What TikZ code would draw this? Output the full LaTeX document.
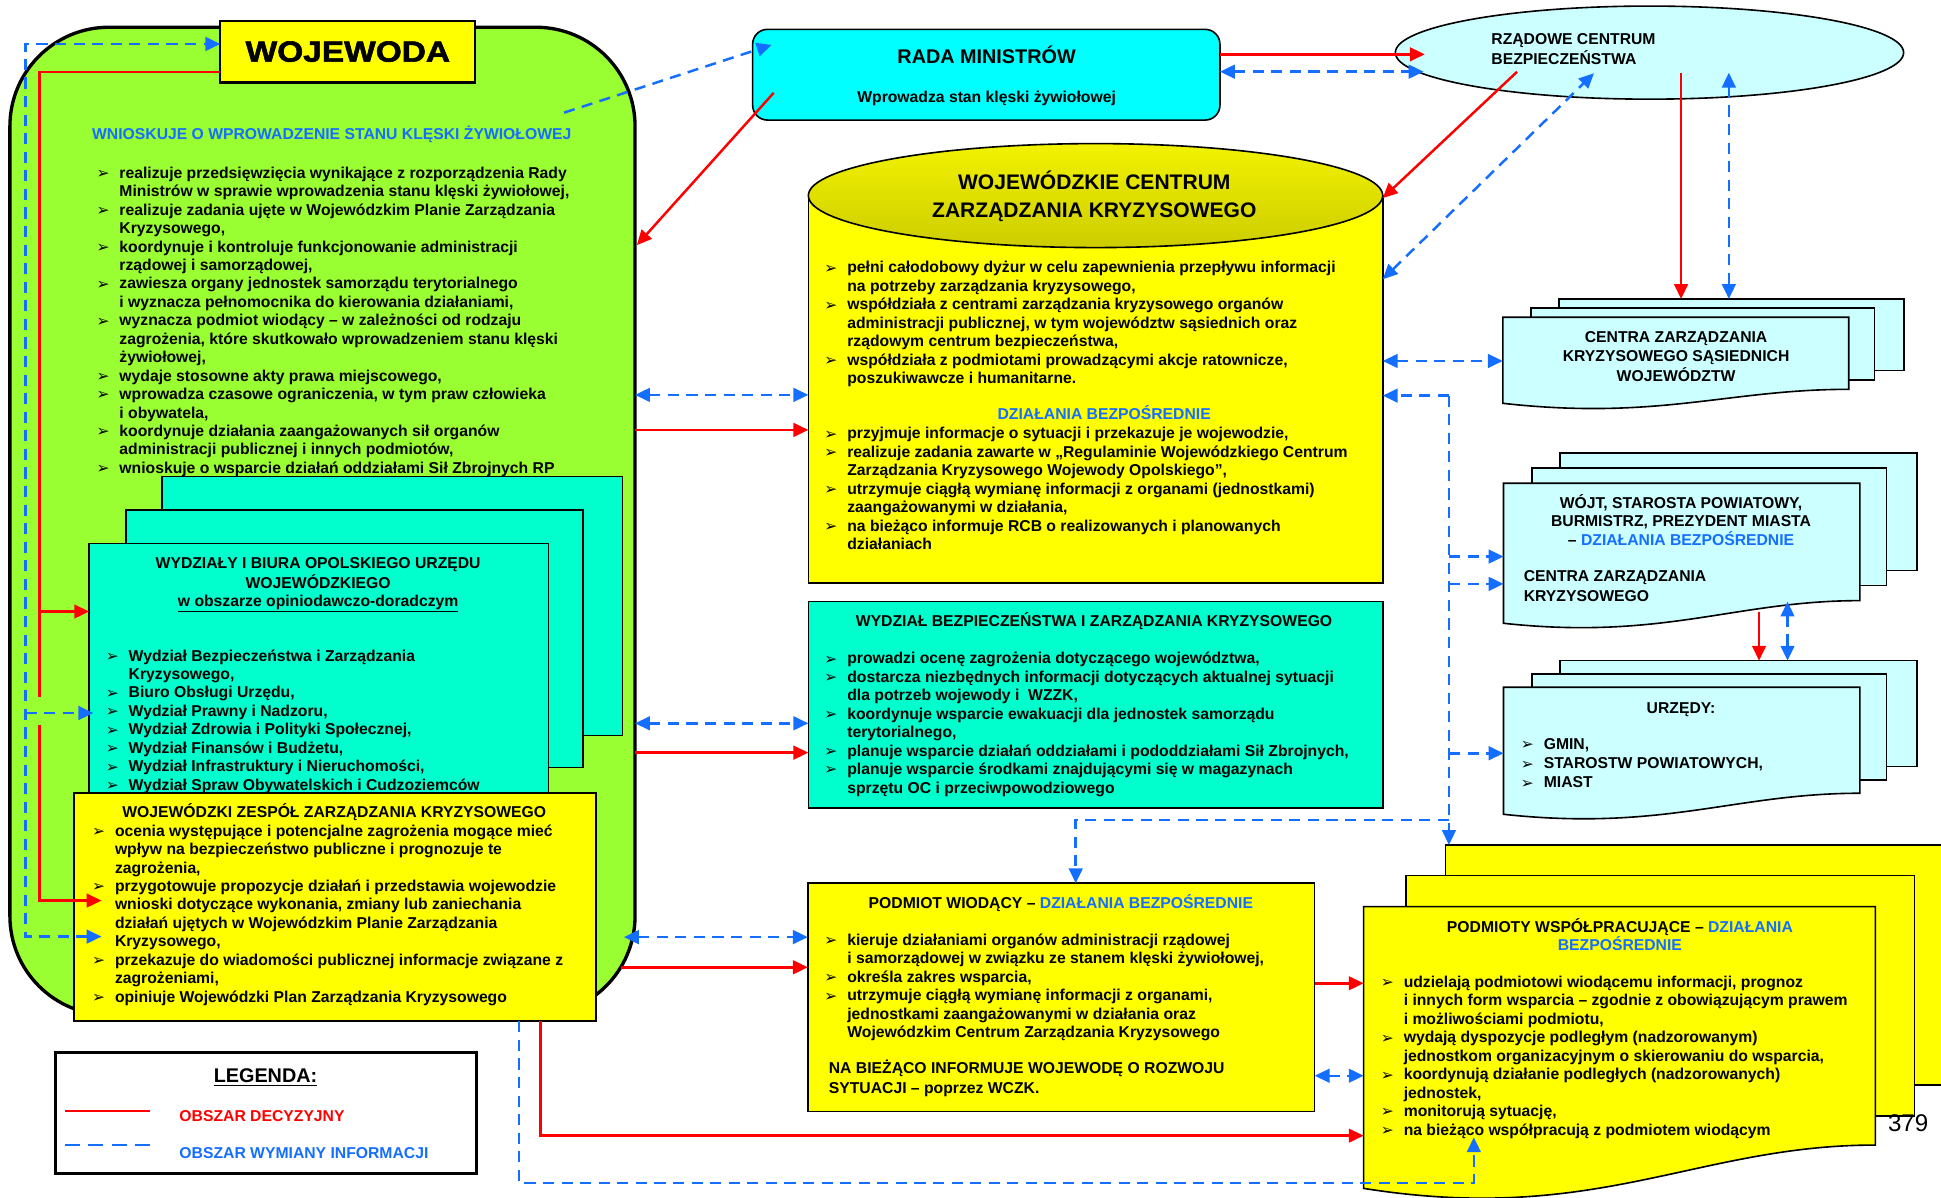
\documentclass[tikz,border=0pt]{standalone}
\usepackage{fontspec}
\setmainfont{Liberation Sans}
\newfontfamily\dvs{DejaVu Sans}
\newfontfamily\widefont{Liberation Sans}[FakeStretch=1.15,FakeBold=2]
\usetikzlibrary{arrows.meta,shapes.geometric}
\definecolor{cgreen}{RGB}{153,255,51}
\definecolor{cyel}{RGB}{255,255,0}
\definecolor{cteal}{RGB}{0,255,204}
\definecolor{ccyan}{RGB}{0,255,255}
\definecolor{clcyan}{RGB}{204,255,255}
\definecolor{cblue}{RGB}{20,110,255}
\definecolor{cred}{RGB}{255,0,0}
\newcommand\bl{\makebox[18.5pt][l]{\raisebox{-0.3pt}{\dvs\fontsize{12.5}{12.5}\selectfont ➢}}}
\newcommand\ct{\hspace*{18.5pt}}
\newcommand\tb[1]{\begin{tabular}[t]{@{}l@{}}#1\end{tabular}}
\newcommand\tc[1]{\begin{tabular}[t]{@{}c@{}}#1\end{tabular}}
\tikzset{
  box/.style={draw, line width=1.3pt, inner sep=0pt, outer sep=0pt, anchor=north west},
  txt/.style={inner sep=0pt, outer sep=0pt, anchor=base west, font=\fontsize{12.7}{14.9}\selectfont\bfseries},
  ctxt/.style={txt, anchor=base},
  redl/.style={draw=cred, line width=2pt},
  bluel/.style={draw=cblue, line width=2pt, dash pattern=on 9pt off 6pt},
  tip/.style={-{Triangle[length=12pt,width=11pt]}},
  dtip/.style={{Triangle[length=12pt,width=11pt]}-{Triangle[length=12pt,width=11pt]}},
}
\begin{document}
\begin{tikzpicture}[x=1pt,y=-1pt]
\useasboundingbox (0,0) rectangle (1568,967);
\clip (0,0) rectangle (1568,967);

% ---------- left green block ----------
\node[box, line width=2.7pt, fill=cgreen, rounded corners=80pt, minimum width=505pt, minimum height=798pt] (woj) at (8,22) {};
\node[box, line width=1.8pt, fill=cyel, minimum width=206pt, minimum height=50pt, anchor=center, font=\widefont\fontsize{23.5}{24}\selectfont\bfseries] (wojewoda) at (281,41.7) {WOJEWODA};
\node[ctxt, text=cblue] (wn) at (268,113) {WNIOSKUJE O WPROWADZENIE STANU KLĘSKI ŻYWIOŁOWEJ};
\node[txt] (wl) at (78,144) {\tb{%
\bl realizuje przedsięwzięcia wynikające z rozporządzenia Rady\\
\ct Ministrów w sprawie wprowadzenia stanu klęski żywiołowej,\\
\bl realizuje zadania ujęte w Wojewódzkim Planie Zarządzania\\
\ct Kryzysowego,\\
\bl koordynuje i kontroluje funkcjonowanie administracji\\
\ct rządowej i samorządowej,\\
\bl zawiesza organy jednostek samorządu terytorialnego\\
\ct i wyznacza pełnomocnika do kierowania działaniami,\\
\bl wyznacza podmiot wiodący – w zależności od rodzaju\\
\ct zagrożenia, które skutkowało wprowadzeniem stanu klęski\\
\ct żywiołowej,\\
\bl wydaje stosowne akty prawa miejscowego,\\
\bl wprowadza czasowe ograniczenia, w tym praw człowieka\\
\ct i obywatela,\\
\bl koordynuje działania zaangażowanych sił organów\\
\ct administracji publicznej i innych podmiotów,\\
\bl wnioskuje o wsparcie działań oddziałami Sił Zbrojnych RP}};

% teal stack
\node[box, fill=cteal, minimum width=372pt, minimum height=209pt] (tback) at (131,385) {};
\node[box, fill=cteal, minimum width=369pt, minimum height=208pt] (tmid) at (102,412) {};
\node[box, fill=cteal, minimum width=371pt, minimum height=211pt] (tfront) at (72,439) {};
\node[ctxt] (tt) at (257,459.5) {\tc{WYDZIAŁY I BIURA OPOLSKIEGO URZĘDU\\ WOJEWÓDZKIEGO\\ \underline{w obszarze opiniodawczo-doradczym}}};
\node[txt] (tl) at (85.5,534) {\tb{%
\bl Wydział Bezpieczeństwa i Zarządzania\\
\ct Kryzysowego,\\
\bl Biuro Obsługi Urzędu,\\
\bl Wydział Prawny i Nadzoru,\\
\bl Wydział Zdrowia i Polityki Społecznej,\\
\bl Wydział Finansów i Budżetu,\\
\bl Wydział Infrastruktury i Nieruchomości,\\
\bl Wydział Spraw Obywatelskich i Cudzoziemców}};

% WZZK
\node[box, fill=cyel, minimum width=421.6pt, minimum height=184.3pt] (wzzk) at (60,640.7) {};
\node[ctxt] (wzt) at (270,660.5) {WOJEWÓDZKI ZESPÓŁ ZARZĄDZANIA KRYZYSOWEGO};
\node[txt] (wzl) at (74.4,675.5) {\tb{%
\bl ocenia występujące i potencjalne zagrożenia mogące mieć\\
\ct wpływ na bezpieczeństwo publiczne i prognozuje te\\
\ct zagrożenia,\\
\bl przygotowuje propozycje działań i przedstawia wojewodzie\\
\ct wnioski dotyczące wykonania, zmiany lub zaniechania\\
\ct działań ujętych w Wojewódzkim Planie Zarządzania\\
\ct Kryzysowego,\\
\bl przekazuje do wiadomości publicznej informacje związane z\\
\ct zagrożeniami,\\
\bl opiniuje Wojewódzki Plan Zarządzania Kryzysowego}};

% legend
\node[box, line width=2.7pt, fill=white, minimum width=339.7pt, minimum height=98pt] (legend) at (45,850) {};
\node[ctxt, font=\fontsize{16}{16}\selectfont\bfseries] (lg) at (214.5,874.8) {\underline{LEGENDA:}};
\coordinate (lr1) at (52.6,897.5); \coordinate (lr2) at (121,897.5);
\coordinate (lb1) at (52.6,925); \coordinate (lb2) at (121,925);
\draw[redl] (lr1) -- (lr2);
\draw[draw=cblue, line width=2pt, dash pattern=on 12pt off 6.8pt] (lb1) -- (lb2);
\node[txt, text=cred] (lr) at (145,906) {OBSZAR DECYZYJNY};
\node[txt, text=cblue] (lb) at (145,936) {OBSZAR WYMIANY INFORMACJI};

% ---------- centre column ----------
\node[box, fill=ccyan, rounded corners=12pt, minimum width=377.5pt, minimum height=73.3pt] (rada) at (608,23.7) {};
\node[ctxt, font=\fontsize{16}{16}\selectfont\bfseries] (rt1) at (797,51.5) {RADA MINISTRÓW};
\node[ctxt] (rt2) at (797,82.5) {Wprowadza stan klęski żywiołowej};

\node[box, fill=cyel, minimum width=464pt, minimum height=313pt] (wczk) at (653,158) {};
\node[draw, line width=1.3pt, ellipse, inner sep=0pt, outer sep=0pt, minimum width=464pt, minimum height=84pt, top color={rgb,255:red,242;green,242;blue,0}, bottom color={rgb,255:red,205;green,205;blue,0}] (wczkhead) at (885,158) {};
\node[ctxt, font=\fontsize{17}{23}\selectfont\bfseries] (wt) at (884,152.8) {\tc{WOJEWÓDZKIE CENTRUM\\ ZARZĄDZANIA KRYZYSOWEGO}};
\node[txt] (wl1) at (666,220.5) {\tb{%
\bl pełni całodobowy dyżur w celu zapewnienia przepływu informacji\\
\ct na potrzeby zarządzania kryzysowego,\\
\bl współdziała z centrami zarządzania kryzysowego organów\\
\ct administracji publicznej, w tym województw sąsiednich oraz\\
\ct rządowym centrum bezpieczeństwa,\\
\bl współdziała z podmiotami prowadzącymi akcje ratownicze,\\
\ct poszukiwawcze i humanitarne.}};
\node[ctxt, text=cblue] (wdb) at (892,338.9) {DZIAŁANIA BEZPOŚREDNIE};
\node[txt] (wl2) at (666,354.5) {\tb{%
\bl przyjmuje informacje o sytuacji i przekazuje je wojewodzie,\\
\bl realizuje zadania zawarte w „Regulaminie Wojewódzkiego Centrum\\
\ct Zarządzania Kryzysowego Wojewody Opolskiego”,\\
\bl utrzymuje ciągłą wymianę informacji z organami (jednostkami)\\
\ct zaangażowanymi w działania,\\
\bl na bieżąco informuje RCB o realizowanych i planowanych\\
\ct działaniach}};

\node[box, fill=cteal, minimum width=464pt, minimum height=166.8pt] (wbzk) at (653,486) {};
\node[ctxt] (wbt) at (883.8,506.5) {WYDZIAŁ BEZPIECZEŃSTWA I ZARZĄDZANIA KRYZYSOWEGO};
\node[txt] (wbl) at (666,536.3) {\tb{%
\bl prowadzi ocenę zagrożenia dotyczącego województwa,\\
\bl dostarcza niezbędnych informacji dotyczących aktualnej sytuacji\\
\ct dla potrzeb wojewody i\ \ WZZK,\\
\bl koordynuje wsparcie ewakuacji dla jednostek samorządu\\
\ct terytorialnego,\\
\bl planuje wsparcie działań oddziałami i pododdziałami Sił Zbrojnych,\\
\bl planuje wsparcie środkami znajdującymi się w magazynach\\
\ct sprzętu OC i przeciwpowodziowego}};

\node[box, fill=cyel, minimum width=409.4pt, minimum height=184.5pt] (pw) at (652.6,713.5) {};
\node[ctxt] (pwt) at (857,733.5) {PODMIOT WIODĄCY – \textcolor{cblue}{DZIAŁANIA BEZPOŚREDNIE}};
\node[txt] (pwl) at (666,763.8) {\tb{%
\bl kieruje działaniami organów administracji rządowej\\
\ct i samorządowej w związku ze stanem klęski żywiołowej,\\
\bl określa zakres wsparcia,\\
\bl utrzymuje ciągłą wymianę informacji z organami,\\
\ct jednostkami zaangażowanymi w działania oraz\\
\ct Wojewódzkim Centrum Zarządzania Kryzysowego}};
\node[txt] (pwf) at (669.6,867.5) {\tb{NA BIEŻĄCO INFORMUJE WOJEWODĘ O ROZWOJU\\[0.7pt] SYTUACJI – poprzez WCZK.}};

% ---------- right column ----------
\node[draw, line width=1.3pt, ellipse, inner sep=0pt, outer sep=0pt, minimum width=410.6pt, minimum height=75.2pt, fill=clcyan] (rcb) at (1332.5,42.5) {};
\node[txt] (rcbt) at (1204.8,36.3) {\tb{RZĄDOWE CENTRUM\\ BEZPIECZEŃSTWA}};

% CZK sasiednich
\node[box, fill=clcyan, minimum width=278.6pt, minimum height=57.9pt] (sback) at (1259.4,241.5) {};
\node[box, fill=clcyan, minimum width=277.4pt, minimum height=58pt] (smid) at (1237,249) {};
\filldraw[draw=black, line width=1.3pt, fill=clcyan] (1214,256.3) coordinate (sfront) -- (1493.5,256.3) -- (1493.5,314.5) .. controls (1395.7,314.5) and (1339.8,339.8) .. (1214,325.8) -- cycle;
\node[ctxt] (st) at (1354,277) {\tc{CENTRA ZARZĄDZANIA\\[0.4pt] KRYZYSOWEGO SĄSIEDNICH\\[0.4pt] WOJEWÓDZTW}};

% WOJT stack
\node[box, fill=clcyan, minimum width=288.5pt, minimum height=95pt] (jback) at (1260,366) {};
\node[box, fill=clcyan, minimum width=286.5pt, minimum height=94.7pt] (jmid) at (1237.5,378.3) {};
\filldraw[draw=black, line width=1.3pt, fill=clcyan] (1214.6,390.4) coordinate (jfront) -- (1502.4,390.4) -- (1502.4,485.2) .. controls (1401.7,485.2) and (1344.1,517.5) .. (1214.6,503.5) -- cycle;
\node[ctxt] (jt) at (1358,411) {\tc{WÓJT, STAROSTA POWIATOWY,\\[-0.5pt] BURMISTRZ, PREZYDENT MIASTA\\[-0.5pt] – \textcolor{cblue}{DZIAŁANIA BEZPOŚREDNIE}}};
\node[txt] (jt2) at (1231,469.8) {\tb{CENTRA ZARZĄDZANIA\\[1.2pt] KRYZYSOWEGO}};

% URZEDY stack
\node[box, fill=clcyan, minimum width=288.5pt, minimum height=85.6pt] (uback) at (1260,533.7) {};
\node[box, fill=clcyan, minimum width=286.5pt, minimum height=85.6pt] (umid) at (1237.5,544.4) {};
\filldraw[draw=black, line width=1.3pt, fill=clcyan] (1214.6,555.2) coordinate (ufront) -- (1502.4,555.2) -- (1502.4,640.8) .. controls (1401.7,640.8) and (1344.1,671.8) .. (1214.6,657.8) -- cycle;
\node[ctxt] (ut) at (1358,576) {URZĘDY:};
\node[txt] (ul) at (1228.6,605.5) {\tb{\bl GMIN,\\[0.6pt] \bl STAROSTW POWIATOWYCH,\\[0.6pt] \bl MIAST}};

% PODMIOTY WSPOLPRACUJACE stack
\node[box, fill=cyel, minimum width=450pt, minimum height=193.8pt] (pback) at (1167.8,682.6) {};
\node[box, fill=cyel, minimum width=410.9pt, minimum height=194.2pt] (pmid) at (1135.7,707.3) {};
\filldraw[draw=black, line width=1.3pt, fill=cyel] (1101.6,732.4) coordinate (pfront) -- (1515,732.4) -- (1515,925) .. controls (1370,925) and (1290,990) .. (1101.6,960) -- cycle;
\node[ctxt] (pt) at (1308.6,753) {\tc{PODMIOTY WSPÓŁPRACUJĄCE – \textcolor{cblue}{DZIAŁANIA}\\[-0.6pt] \textcolor{cblue}{BEZPOŚREDNIE}}};
\node[txt] (pl) at (1115.5,797.7) {\tb{%
\bl udzielają podmiotowi wiodącemu informacji, prognoz\\
\ct i innych form wsparcia – zgodnie z obowiązującym prawem\\
\ct i możliwościami podmiotu,\\
\bl wydają dyspozycje podległym (nadzorowanym)\\
\ct jednostkom organizacyjnym o skierowaniu do wsparcia,\\
\bl koordynują działanie podległych (nadzorowanych)\\
\ct jednostek,\\
\bl monitorują sytuację,\\
\bl na bieżąco współpracują z podmiotem wiodącym}};
\node[inner sep=0pt, anchor=base west, font=\fontsize{19.5}{20}\selectfont] (pgno) at (1525,914) {379};

% ---------- red connectors (decision) ----------
\draw[redl] (wojewoda.west |- 0,58) -- (32,58) -- (32,563);
\draw[redl,tip] (32,494) -- (tfront.west |- 0,494);
\draw[redl,tip] (32,586) -- (32,727.5) -- (82,727.5);
\draw[redl,tip] (625,75) -- (514.5,198);
\draw[redl,tip] (rada.east |- 0,43.9) -- (1151,43.9);
\draw[redl,tip] (1225.5,58) -- (1117,160);
\draw[redl,tip] (1358,58.7) -- (sback.north -| 1358,0);
\draw[redl,tip] (woj.east |- 0,347.3) -- (wczk.west |- 0,347.3);
\draw[redl,tip] (woj.east |- 0,608) -- (wbzk.west |- 0,608);
\draw[redl,tip] (502,781.4) -- (pw.west |- 0,781.4);
\draw[redl,tip] (wzzk.south -| 436.7,0) -- (436.7,917.4) -- (pfront |- 0,917.4);
\draw[redl,tip] (pw.east |- 0,794.3) -- (pfront |- 0,794.3);
\draw[redl,tip] (1421,494) -- (uback.north -| 1421,0);

% ---------- blue connectors (information) ----------
\draw[bluel,dtip] (82,756.6) -- (20.5,756.6) -- (20.5,35.5) -- (wojewoda.west |- 0,35.5);
\draw[bluel,tip] (20.5,576) -- (75.4,576);
\draw[bluel,tip] (455.7,91) -- (623.3,36.3);
\draw[bluel,dtip] (rada.east |- 0,57.9) -- (1150,57.9);
\draw[bluel,dtip] (1117,225.6) -- (1287.6,59.2);
\draw[bluel,dtip] (1396.6,58.7) -- (sback.north -| 1396.6,0);
\draw[bluel,dtip] (woj.east |- 0,319) -- (wczk.west |- 0,319);
\draw[bluel,dtip] (wczk.east |- 0,291.6) -- (sfront |- 0,291.6);
\draw[bluel,tip] (1170.5,319.6) -- (wczk.east |- 0,319.6);
\draw[bluel,tip] (1170.5,319.6) -- (pback.north -| 1170.5,0);
\draw[bluel,tip] (1170.5,449.6) -- (jfront |- 0,449.6);
\draw[bluel,tip] (1170.5,471.7) -- (jfront |- 0,471.7);
\draw[bluel,tip] (1170.5,608.5) -- (ufront |- 0,608.5);
\draw[bluel,tip] (1170.5,662.4) -- (869,662.4) -- (pw.north -| 869,0);
\draw[bluel,dtip] (woj.east |- 0,584.3) -- (wbzk.west |- 0,584.3);
\draw[bluel,dtip] (504,757) -- (pw.west |- 0,757);
\draw[bluel,dtip] (pw.east |- 0,869) -- (pfront |- 0,869);
\draw[bluel,tip] (wzzk.south -| 419.2,0) -- (419.2,955.5) -- (1190.6,955.5) -- (1190.6,918.7);
\draw[bluel,dtip] (1444,486) -- (uback.north -| 1444,0);
\end{tikzpicture}
\end{document}
